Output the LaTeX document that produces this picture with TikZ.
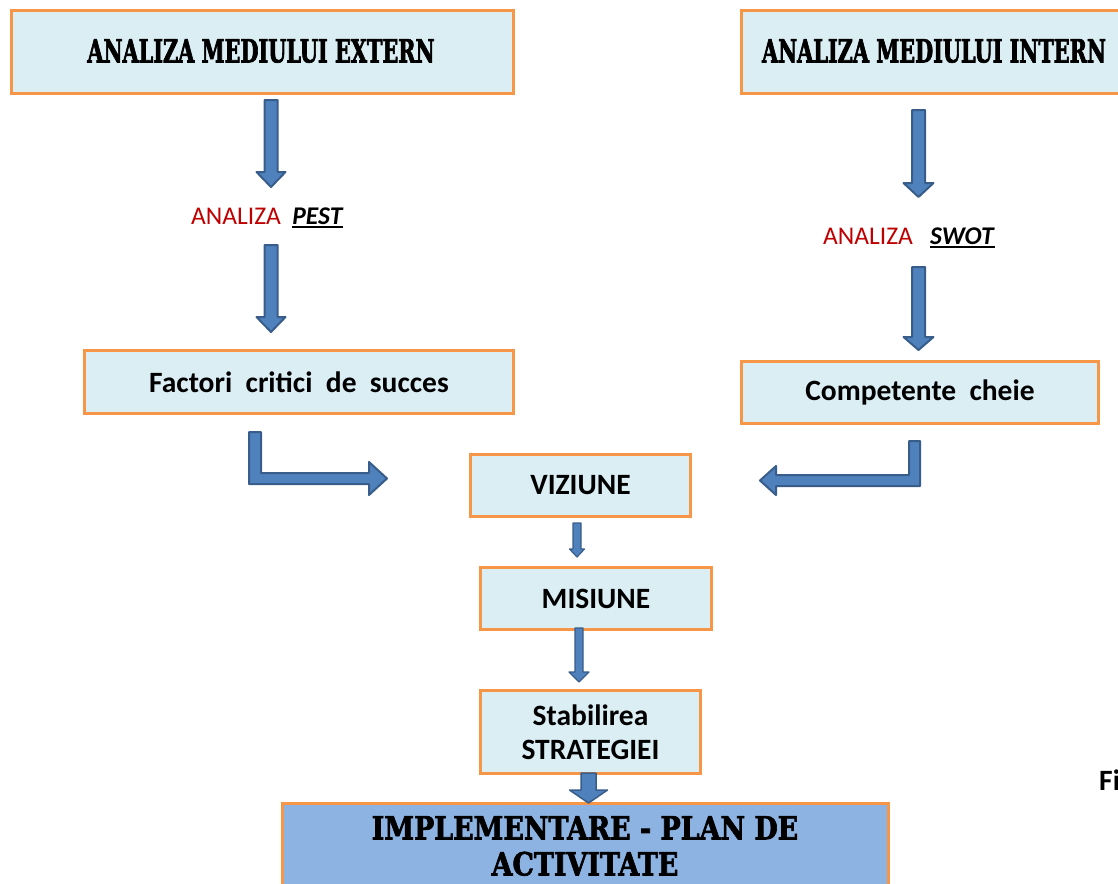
\documentclass[tikz,border=0pt]{standalone}
\usepackage{fontspec}
\setmainfont{Carlito}
\newfontfamily\deco[FakeStretch=0.65,FakeBold=2]{DejaVu Serif}
\newfontfamily\decow[FakeStretch=0.84,FakeBold=2]{DejaVu Serif}
\definecolor{boxfill}{HTML}{DBEEF4}
\definecolor{boxline}{HTML}{F79646}
\definecolor{implfill}{HTML}{8DB3E2}
\definecolor{arrfill}{HTML}{4F81BD}
\definecolor{arrline}{HTML}{385D8A}
\definecolor{redtxt}{HTML}{C00000}
\newcommand\blockdown[7]{% cx, ytop, ybot(tip), shaft half, head half, head length, line width
  \draw[blockarrow, line width=#7] ({#1-#4},#2) -- ({#1+#4},#2) -- ({#1+#4},{#3-#6}) -- ({#1+#5},{#3-#6})
    -- (#1,#3) -- ({#1-#5},{#3-#6}) -- ({#1-#4},{#3-#6}) -- cycle;}
\newcommand\thickul[1]{\setbox0\hbox{#1}\rlap{\rule[-3pt]{\wd0}{2.2pt}}\box0}
\begin{document}
\begin{tikzpicture}[x=1pt,y=-1pt,
  box/.style={draw=boxline, line width=3pt, fill=boxfill, anchor=north west, inner sep=0pt, align=center},
  blockarrow/.style={draw=arrline, fill=arrfill, line join=round},
  title/.style={font={\deco\bfseries\fontsize{32}{36}\selectfont}},
  titlew/.style={font={\decow\bfseries\fontsize{32}{36}\selectfont}},
  body/.style={font={\bfseries\fontsize{29.5}{34}\selectfont}}]
\useasboundingbox (0,0) rectangle (1118,883);
% boxes
\node[box, minimum width=502, minimum height=83] (ext) at (10,9) {};
\node[title] (extT) at (261,51) {ANALIZA MEDIULUI EXTERN};
\node[box, minimum width=390, minimum height=83] (int) at (740,9) {};
\node[title] (intT) at (934,51) {ANALIZA MEDIULUI INTERN};
\node[box, minimum width=429, minimum height=63, body] (fcs) at (83,349) {Factori\ \ critici\ \ de\ \ succes};
\node[box, minimum width=357, minimum height=62, body] (comp) at (740,360) {Competente\ \ cheie};
\node[box, minimum width=220, minimum height=62, body] (viz) at (469,453) {VIZIUNE};
\node[box, minimum width=231, minimum height=62, body] (mis) at (479,566) {MISIUNE};
\node[box, minimum width=220, minimum height=83, body] (str) at (479,689) {Stabilirea\\STRATEGIEI};
\node[box, fill=implfill, minimum width=606, minimum height=92] (impl) at (281,802) {};
\node[titlew, align=center] (implT) at (585,846) {IMPLEMENTARE - PLAN DE\\[0pt]ACTIVITATE};
% labels
\node[font=\fontsize{25.5}{30}\selectfont, anchor=west, inner sep=0pt] (pest) at (191,218)
  {\textcolor{redtxt}{ANALIZA}\ \ \thickul{\textbf{\textit{PEST}}}};
\node[font=\fontsize{25.5}{30}\selectfont, anchor=west, inner sep=0pt] (swot) at (823,238)
  {\textcolor{redtxt}{ANALIZA}\ \ \ \thickul{\textbf{\textit{SWOT}}}};
\node[body, anchor=west, inner sep=0pt] (fig) at (1099,780) {Fi};
% straight block arrows
\blockdown{271}{100}{187}{6.5}{14.5}{15}{2pt}
\blockdown{271}{245}{332}{6.5}{14.5}{15}{2pt}
\blockdown{918.5}{110}{197}{6.5}{15}{14}{2pt}
\blockdown{918.5}{267}{350}{6.5}{15}{13}{2pt}
\blockdown{577}{523}{557}{4}{7.5}{8}{1.2pt}
\blockdown{579}{628}{682}{4}{10}{10}{1.2pt}
\blockdown{588.5}{773}{803}{7.5}{19}{13}{1.5pt}
% elbow arrows
\draw[blockarrow, line width=2pt] (249,432) -- (261,432) -- (261,473) -- (369,473) -- (369,462)
  -- (387,478.5) -- (369,495) -- (369,484) -- (249,484) -- cycle;
\draw[blockarrow, line width=2pt] (920,441) -- (909,441) -- (909,475) -- (776,475) -- (776,466)
  -- (760,480.5) -- (776,495) -- (776,486) -- (920,486) -- cycle;
\end{tikzpicture}
\end{document}
